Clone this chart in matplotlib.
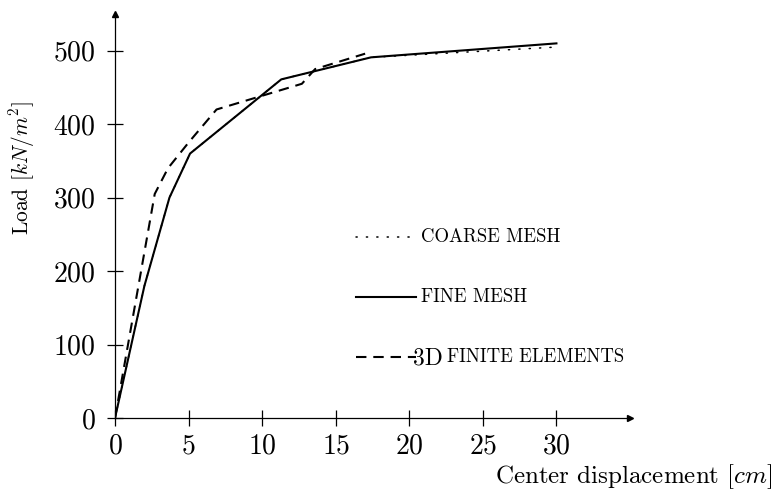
import matplotlib
matplotlib.use("Agg")
import matplotlib.pyplot as plt
from matplotlib.lines import Line2D

plt.rcParams['font.family'] = ['cmr10', 'DejaVu Serif']
plt.rcParams['mathtext.fontset'] = 'cm'
plt.rcParams['axes.formatter.use_mathtext'] = True

# Data
coarse_x = [0, 2.0, 3.7, 5.1, 11.3, 17.4, 30]
coarse_y = [0, 180, 300, 360, 461, 491, 505]
fine_x = [0, 2.0, 3.7, 5.1, 11.3, 17.4, 30]
fine_y = [0, 180, 300, 360, 461, 491, 510]
fe_x = [0, 2.7, 3.6, 5.0, 6.9, 12.7, 13.6, 17.0]
fe_y = [0, 305, 340, 375, 420, 455, 475, 496]
x_ticks = [0, 5, 10, 15, 20, 25, 30]
y_ticks = [0, 100, 200, 300, 400, 500]
labels = ["COARSE MESH", "FINE MESH", "FINITE ELEMENTS"]

DOT = (0, (0.8, 6))
DASH = (0, (5, 3.3))

fig = plt.figure(figsize=(7.75, 4.92), dpi=100)
ax = fig.add_axes([115/775, 1-418/492, 515/775, 404/492])
ax.set_xlim(0, 35)
ax.set_ylim(0, 550)

lc, = ax.plot(coarse_x, coarse_y, color='black', lw=1.1, linestyle=DOT, dash_capstyle='round')
lf, = ax.plot(fine_x, fine_y, color='black', lw=1.5)
ld, = ax.plot(fe_x, fe_y, color='black', lw=1.5, linestyle=DASH)

for s in ['top', 'right']:
    ax.spines[s].set_visible(False)
for s in ['left', 'bottom']:
    ax.spines[s].set_linewidth(0.9)
ax.spines['left'].set_position(('data', 0))
ax.spines['bottom'].set_position(('data', 0))
ax.plot(1, 0, ">", color='black', markersize=4, transform=ax.transAxes, clip_on=False)
ax.plot(0, 1, "^", color='black', markersize=4, transform=ax.transAxes, clip_on=False)

ax.set_xticks(x_ticks)
ax.set_yticks(y_ticks)
ax.tick_params(direction='inout', length=11.5, width=0.9, labelsize=20)
ax.tick_params(axis='x', pad=5.5)
ax.tick_params(axis='y', pad=8)

fig.text(773/775, 1-483/492, r"Center displacement [$cm$]", ha='right', va='baseline', fontsize=18)
fig.text(22/775, 1-168/492, r"Load [$kN/m^2$]", ha='center', va='center', rotation=90, fontsize=15.5)

# legend (manual)
rows = [237, 297, 357]
handles = [lc, lf, ld]
styles = [DOT, '-', DASH]
for i, (h, lab, r, st) in enumerate(zip(handles, labels, rows, styles)):
    yy = 1 - r/492
    ln = Line2D([356/775, 416/775], [yy, yy], transform=fig.transFigure, color='black',
                lw=h.get_linewidth(), linestyle=st, dash_capstyle='round' if i == 0 else 'butt')
    fig.add_artist(ln)
    if i < 2:
        fig.text(421/775, yy, lab, ha='left', va='center', fontsize=13.5)
    else:
        fig.text(413/775, yy - 0.003, "3D", ha='left', va='center', fontsize=17)
        fig.text(447/775, yy, lab, ha='left', va='center', fontsize=13.5)

fig.savefig("out.png", dpi=100)
